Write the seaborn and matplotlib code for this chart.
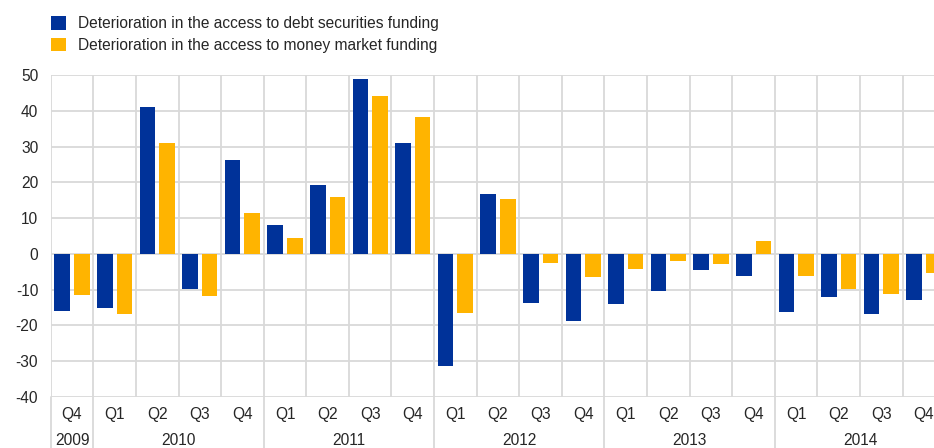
import matplotlib
matplotlib.use("Agg")
import matplotlib.pyplot as plt
from matplotlib.patches import Patch
import numpy as np
import pandas as pd
import seaborn as sns

# quarters 2009Q4 .. 2014Q4
years = ["2009", "2010", "2011", "2012", "2013", "2014"]
quarter_keys = ["2009Q4",
                "2010Q1", "2010Q2", "2010Q3", "2010Q4",
                "2011Q1", "2011Q2", "2011Q3", "2011Q4",
                "2012Q1", "2012Q2", "2012Q3", "2012Q4",
                "2013Q1", "2013Q2", "2013Q3", "2013Q4",
                "2014Q1", "2014Q2", "2014Q3", "2014Q4"]
quarter_labels = [k[4:] for k in quarter_keys]

debt_securities = [-16, -15, 41, -9.7, 26.3, 8, 19.2, 49, 31, -31.3, 16.7,
                   -13.7, -18.7, -14, -10.3, -4.5, -6.1, -16.2, -12, -16.8, -12.9]
money_market = [-11.5, -16.8, 31, -11.8, 11.4, 4.5, 16, 44, 38.3, -16.5, 15.4,
                -2.5, -6.4, -4.2, -2, -2.8, 3.6, -6.1, -9.8, -11.2, -5.3]

series_names = ["Deterioration in the access to debt securities funding",
                "Deterioration in the access to money market funding"]
colors = ["#003299", "#ffb400"]

df = pd.DataFrame({
    "quarter": quarter_keys * 2,
    "value": debt_securities + money_market,
    "series": [series_names[0]] * len(quarter_keys) + [series_names[1]] * len(quarter_keys),
})

sns.set_style("white")
plt.rcParams["font.family"] = ["Liberation Sans", "DejaVu Sans"]
plt.rcParams["axes.unicode_minus"] = False
font_size = 11.2
grid_color = "#d9d9d9"

fig = plt.figure(figsize=(9.34, 4.48), dpi=100)
# axes runs past the right edge, last bar gets clipped like the original
ax = fig.add_axes([50.7 / 934, 51 / 448, 894.6 / 934, 322 / 448])

sns.barplot(data=df, x="quarter", y="value", hue="series", order=quarter_keys,
            hue_order=series_names, palette=colors, saturation=1, width=0.92, gap=0.2,
            linewidth=0, ax=ax, legend=False, zorder=3)

ax.set_xlim(-0.5, len(quarter_keys) - 0.5)
ax.set_ylim(-40, 50)
ax.set_yticks(np.arange(-40, 51, 10))
ax.tick_params(axis="y", labelsize=font_size, length=0, pad=9)
ax.set_xticks(range(len(quarter_keys)))
ax.set_xticklabels(quarter_labels)
ax.tick_params(axis="x", labelsize=font_size, length=0, pad=7)
ax.set_xlabel("")
ax.set_ylabel("")
for s in ax.spines.values():
    s.set_visible(False)

# grid
for yv in np.arange(-40, 51, 10):
    ax.axhline(yv, color=grid_color, linewidth=1.3, zorder=1)
for k in range(len(quarter_keys) + 1):
    ax.axvline(k - 0.5, color=grid_color, linewidth=1.3, zorder=1)

# year separators run down through the label rows
year_bounds = [-0.5, 0.5, 4.5, 8.5, 12.5, 16.5]
for xb in year_bounds:
    ax.plot([xb, xb], [0, -0.17], color=grid_color, linewidth=1.3,
            transform=ax.get_xaxis_transform(), clip_on=False, zorder=1)

year_centers = [0, 2.5, 6.5, 10.5, 14.5, 18.5]
for yr, xc in zip(years, year_centers):
    ax.text(xc, -0.134, yr, transform=ax.get_xaxis_transform(), ha="center",
            va="center", fontsize=font_size)

handles = [Patch(facecolor=c, edgecolor="none") for c in colors]
fig.legend(handles, series_names, loc="upper left", bbox_to_anchor=(0.043, 0.988),
           frameon=False, fontsize=font_size, handlelength=0.95, handleheight=0.95,
           handletextpad=0.8, labelspacing=0.4, borderpad=0.2)

fig.savefig("out.png", dpi=100)
